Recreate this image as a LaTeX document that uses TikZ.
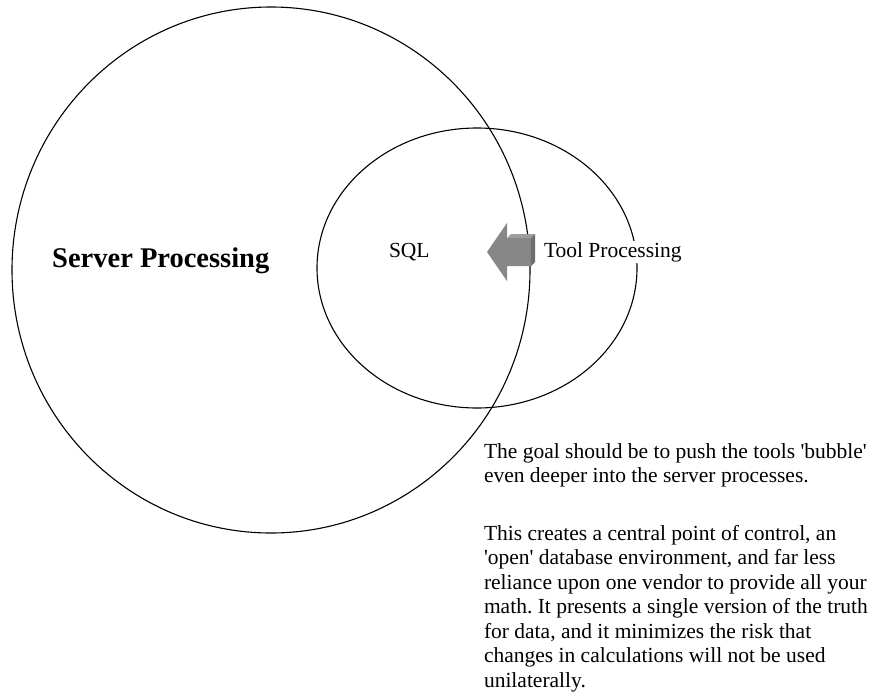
\documentclass[tikz,border=0pt]{standalone}
\usepackage{fontspec}
\setmainfont{Liberation Serif}
\usetikzlibrary{shapes.geometric}
\tikzset{
  bubble/.style={draw=black, line width=1.1pt, ellipse, inner sep=0pt, outer sep=0pt},
  lbl/.style={inner sep=0pt, outer sep=0pt, font=\fontsize{21.5}{24.5}\selectfont},
  lblbg/.style={lbl, fill=white, inner ysep=1pt, inner xsep=1pt},
  big/.style={inner sep=0pt, font=\fontsize{28.5}{32}\selectfont\bfseries},
  arrfront/.style={fill=black!47},
  arrtop/.style={fill=black!38},
  arrside/.style={fill=black!57},
}
\newcommand{\sq}{\textquotesingle}
\begin{document}
\frenchspacing
\begin{tikzpicture}[x=1pt, y=-1pt]
\useasboundingbox (0,0) rectangle (876,694);
\fill[white] (0,0) rectangle (876,694);
% bubbles
\node[bubble, minimum width=518pt, minimum height=526pt] (server) at (271,270) {};
\node[bubble, minimum width=320pt, minimum height=280pt] (tool) at (477,268) {};
% 3D arrow
\fill[arrfront] (487,252) -- (507,223) -- (507,238) -- (531,238) -- (531,266) -- (507,266) -- (507,281) -- cycle;
\fill[arrtop] (507,238) -- (511,234) -- (535,234) -- (531,238) -- cycle;
\fill[arrside] (531,238) -- (535,234) -- (535,262) -- (531,266) -- cycle;
% labels
\node[big, anchor=base west] (srvlbl) at (52,267) {Server Processing};
\node[lbl, anchor=base west] (sql) at (389,257) {SQL};
\node[lblbg, anchor=base west] (toollbl) at (543,257) {Tool Processing};
% notes
\node[lbl, anchor=base west] (note1) at (484,458) {\vtop{\baselineskip=24.5pt
  \hbox{The goal should be to push the tools \sq bubble\sq}
  \hbox{even deeper into the server processes.}}};
\node[lbl, anchor=base west] (note2) at (484,540) {\vtop{\baselineskip=24.5pt
  \hbox{This creates a central point of control, an}
  \hbox{\sq open\sq{} database environment, and far less}
  \hbox{reliance upon one vendor to provide all your}
  \hbox{math. It presents a single version of the truth}
  \hbox{for data, and it minimizes the risk that}
  \hbox{changes in calculations will not be used}
  \hbox{unilaterally.}}};
\end{tikzpicture}
\end{document}
